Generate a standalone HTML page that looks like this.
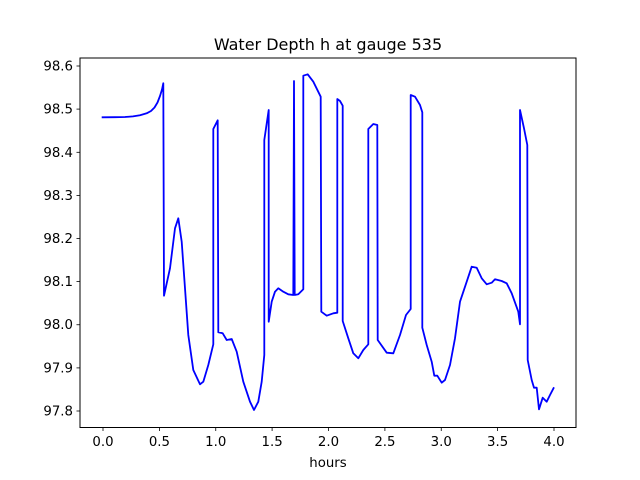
<!DOCTYPE html>
<html><head><style>body{margin:0;background:#fff}svg{display:block}text{font-family:"DejaVu Sans","Liberation Sans",sans-serif;font-size:13.3px;fill:#000}</style></head>
<body>
<svg width="640" height="480" viewBox="0 0 640 480">
<rect width="640" height="480" fill="#fff"/>
<text x="328" y="50" text-anchor="middle" style="font-size:16px">Water Depth h at gauge 535</text>
<polyline fill="none" stroke="#0000ff" stroke-width="1.8" stroke-linejoin="round" points="
101.7,117.3 115,117.2 125,117 133,116.4 140,115.2 146.7,113.3 151,111 154.5,107.5 157.5,102.5 160,96 162,89.5 163.3,83.3 164,295.7 170,268.3 175,228.3 178.3,218.3 181.7,241.7 188.3,335 193.3,370 200,384.3 203.3,381.7 208.3,365 213.3,344.3 213.3,129 217.7,120.3 218.3,332.3 222.7,333.3 226.7,340 231.7,339 236.7,351.7 243.3,381.7 250,401.7 254,410 258.3,401.7 261.7,381.7 264.3,355 264.3,140 268.7,110 268.7,321.7 271.7,301.7 275,291.7 278.3,288.3 283.3,291.7 288.3,294.3 293.3,295 294,81 294.7,295 298.3,294.3 303.3,289.3 303.3,75.7 307.7,74.3 313.3,81.7 320.7,96.7 321.3,311.7 326.7,315.7 333.3,313.3 337.3,312.7 337.3,99 340,101 342.7,105.7 342.7,321 348.3,338.3 353.3,353.3 358.3,358.3 363.3,350 368.3,344.3 368.3,129 373.3,124 377.3,125 377.7,340 386.7,352.7 393.3,353.3 400,335 406,315 410.7,309 410.7,95 415,96.7 420,105 422.3,112.3 422.3,327.7 426.7,345 431.7,361.7 434.3,375.7 437.3,375.7 441.7,382.7 445,380 450,365 455,338.3 460,301.7 466.7,281.7 471.7,266.7 476.7,267.7 481.7,278.3 486.7,284.3 491.7,282.7 495,279.3 501.7,281 506.7,283.3 511.7,293.3 518.3,311.7 520,324.3 520,110 524,128.3 527.3,145 527.7,360 531.7,380 534,387.7 536.7,387.7 539,409.3 542.7,397.7 546.7,401.7 550,395 554,387.3"/>
<rect x="80" y="58" width="496" height="369.5" fill="none" stroke="#000" stroke-width="1"/>
<g stroke="#000" stroke-width="0.8">
<line x1="103" y1="427.5" x2="103" y2="431"/><line x1="159.4" y1="427.5" x2="159.4" y2="431"/><line x1="215.75" y1="427.5" x2="215.75" y2="431"/><line x1="272.1" y1="427.5" x2="272.1" y2="431"/><line x1="328.5" y1="427.5" x2="328.5" y2="431"/><line x1="384.9" y1="427.5" x2="384.9" y2="431"/><line x1="441.25" y1="427.5" x2="441.25" y2="431"/><line x1="497.6" y1="427.5" x2="497.6" y2="431"/><line x1="554" y1="427.5" x2="554" y2="431"/>
<line x1="76.5" y1="66" x2="80" y2="66"/><line x1="76.5" y1="109.1" x2="80" y2="109.1"/><line x1="76.5" y1="152.3" x2="80" y2="152.3"/><line x1="76.5" y1="195.4" x2="80" y2="195.4"/><line x1="76.5" y1="238.5" x2="80" y2="238.5"/><line x1="76.5" y1="281.6" x2="80" y2="281.6"/><line x1="76.5" y1="324.75" x2="80" y2="324.75"/><line x1="76.5" y1="367.9" x2="80" y2="367.9"/><line x1="76.5" y1="411" x2="80" y2="411"/>
</g>
<g text-anchor="middle">
<text x="103" y="446">0.0</text><text x="159.4" y="446">0.5</text><text x="215.75" y="446">1.0</text><text x="272.1" y="446">1.5</text><text x="328.5" y="446">2.0</text><text x="384.9" y="446">2.5</text><text x="441.25" y="446">3.0</text><text x="497.6" y="446">3.5</text><text x="554" y="446">4.0</text>
<text x="328" y="467">hours</text>
</g>
<g text-anchor="end">
<text x="73" y="70.5">98.6</text><text x="73" y="113.6">98.5</text><text x="73" y="156.8">98.4</text><text x="73" y="199.9">98.3</text><text x="73" y="243">98.2</text><text x="73" y="286.1">98.1</text><text x="73" y="329.2">98.0</text><text x="73" y="372.4">97.9</text><text x="73" y="415.5">97.8</text>
</g>
</svg>
</body></html>
